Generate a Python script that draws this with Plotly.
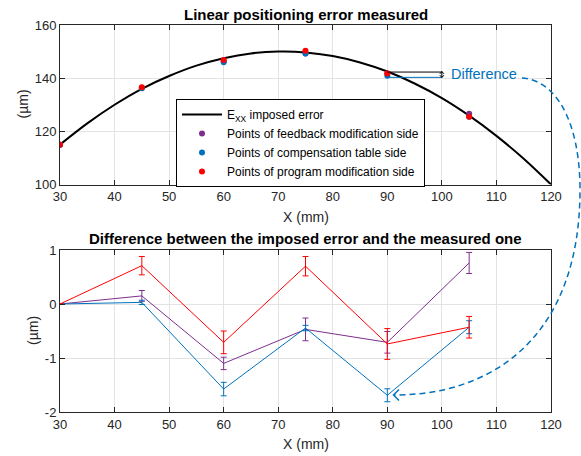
import plotly.graph_objects as go

# ---------------- data ----------------
curve_x = [30, 35, 40, 45, 50, 55, 60, 65, 70, 75, 80, 85, 90, 95, 100, 105, 110, 115, 120]
curve_y = [115.0, 123.0, 130.0, 136.0, 140.8, 144.7, 147.5, 149.3, 150.0, 149.7,
           148.3, 145.9, 142.5, 138.0, 132.5, 125.9, 118.3, 109.7, 100.0]

pts_x = [30, 45, 60, 75, 90, 105]
feedback_pts = [115.0, 136.4, 146.4, 149.3, 141.8, 126.6]
compensation_pts = [115.0, 136.2, 146.0, 149.3, 140.9, 125.5]
program_pts = [115.0, 136.6, 146.8, 150.3, 141.8, 125.5]

diff_x = [30, 45, 60, 75, 90, 105]
feedback_diff = [0, 0.15, -1.10, -0.47, -0.71, 0.76]
feedback_err = [0, 0.10, 0.115, 0.21, 0.20, 0.195]
compensation_diff = [0, 0.03, -1.575, -0.445, -1.69, -0.43]
compensation_err = [0, 0.04, 0.125, 0.05, 0.12, 0.12]
program_diff = [0, 0.71, -0.71, 0.70, -0.74, -0.43]
program_err = [0, 0.17, 0.21, 0.18, 0.285, 0.20]

x_ticks = [30, 40, 50, 60, 70, 80, 90, 100, 110, 120]
top_y_ticks = [100, 120, 140, 160]
bot_y_ticks = [-2, -1, 0, 1]
bot_y_ticktext = ["-2", "-1", "0", "1"]

PURPLE = "#7E2F8E"
BLUE = "#0072BD"
RED = "#FF0000"
FONT = "Liberation Sans, Arial, sans-serif"
AX = "#262626"

# ---------------- layout geometry ----------------
W, H = 581, 456
ML, MR, MT, MB = 60, 30, 25, 44
PW, PH = W - ML - MR, H - MT - MB


def px(x):
    return (x - ML) / PW


def py(y):
    return 1 - (y - MT) / PH


fig = go.Figure()

# top plot
fig.add_trace(go.Scatter(x=curve_x, y=curve_y, mode="lines", line=dict(color="black", width=2, shape="spline"),
                         name="E<sub>XX</sub> imposed error", xaxis="x", yaxis="y"))
fig.add_trace(go.Scatter(x=pts_x, y=feedback_pts, mode="markers", marker=dict(color=PURPLE, size=6),
                         name="Points of feedback modification side", xaxis="x", yaxis="y"))
fig.add_trace(go.Scatter(x=pts_x, y=compensation_pts, mode="markers", marker=dict(color=BLUE, size=6),
                         name="Points of compensation table side", xaxis="x", yaxis="y"))
fig.add_trace(go.Scatter(x=pts_x, y=program_pts, mode="markers", marker=dict(color=RED, size=6),
                         name="Points of program modification side", xaxis="x", yaxis="y"))

# bottom plot
for yv, ev, col in [(feedback_diff, feedback_err, PURPLE),
                    (compensation_diff, compensation_err, BLUE),
                    (program_diff, program_err, RED)]:
    fig.add_trace(go.Scatter(x=diff_x, y=yv, mode="lines", line=dict(color=col, width=1),
                             error_y=dict(type="data", array=ev, visible=True, color=col, thickness=1, width=3),
                             showlegend=False, xaxis="x2", yaxis="y2"))

axis_common = dict(showline=True, linecolor=AX, linewidth=1, mirror="ticks", ticks="inside", ticklen=5,
                   tickcolor=AX, showgrid=True, gridcolor="#e3e3e3", gridwidth=1, zeroline=False,
                   tickfont=dict(family=FONT, size=13, color=AX))

fig.update_layout(
    width=W, height=H, margin=dict(l=ML, r=MR, t=MT, b=MB),
    paper_bgcolor="white", plot_bgcolor="white",
    font=dict(family=FONT, color=AX),
    xaxis=dict(domain=[0, 1], range=[30, 120], tickvals=x_ticks, anchor="y", **axis_common),
    yaxis=dict(domain=[py(184.5), 1], range=[100, 160], tickvals=top_y_ticks, anchor="x", **axis_common),
    xaxis2=dict(domain=[0, 1], range=[30, 120], tickvals=x_ticks, anchor="y2", **axis_common),
    yaxis2=dict(domain=[0, py(250)], range=[-2, 1], tickvals=bot_y_ticks, ticktext=bot_y_ticktext,
                anchor="x2", **axis_common),
    legend=dict(x=px(176), y=py(99), xanchor="left", yanchor="top", bgcolor="white",
                bordercolor="black", borderwidth=1, font=dict(family=FONT, size=12, color="black"),
                tracegroupgap=0, itemwidth=40),
    showlegend=True,
)

ann = []
# titles
ann.append(dict(text="<b>Linear positioning error measured</b>", x=0.5, y=py(14), xref="paper", yref="paper",
                showarrow=False, font=dict(family=FONT, size=15, color="black"), xanchor="center", yanchor="middle"))
ann.append(dict(text="<b>Difference between the imposed error and the measured one</b>", x=0.5, y=py(239),
                xref="paper", yref="paper", showarrow=False, font=dict(family=FONT, size=15, color="black"),
                xanchor="center", yanchor="middle"))
# axis titles
for yy in (217, 444):
    ann.append(dict(text="X (mm)", x=0.5, y=py(yy), xref="paper", yref="paper", showarrow=False,
                    font=dict(family=FONT, size=14, color=AX), xanchor="center", yanchor="middle"))
ann.append(dict(text="(µm)", x=px(22), y=py(104.5), xref="paper", yref="paper", showarrow=False, textangle=-90,
                font=dict(family=FONT, size=14, color=AX), xanchor="center", yanchor="middle"))
ann.append(dict(text="(µm)", x=px(33), y=py(331), xref="paper", yref="paper", showarrow=False, textangle=-90,
                font=dict(family=FONT, size=14, color=AX), xanchor="center", yanchor="middle"))
# difference label
ann.append(dict(text="Difference", x=101.3, y=141.4, xref="x", yref="y", showarrow=False,
                font=dict(family=FONT, size=14.5, color=BLUE), xanchor="left", yanchor="middle"))
fig.update_layout(annotations=ann)

shapes = []
shapes.append(dict(type="line", x0=90, x1=100, y0=142.3, y1=142.3, xref="x", yref="y",
                   line=dict(color="black", width=1)))
shapes.append(dict(type="line", x0=90, x1=100, y0=140.3, y1=140.3, xref="x", yref="y",
                   line=dict(color=BLUE, width=1)))
# small double arrow between the two levels at x = 100
xa = ML + (100 - 30) / 90 * PW
dbl = (f"M {px(xa)},{py(71.5)} L {px(xa)},{py(77.5)} "
       f"M {px(xa - 2)},{py(73.8)} L {px(xa)},{py(71.5)} L {px(xa + 2)},{py(73.8)} "
       f"M {px(xa - 2)},{py(75.2)} L {px(xa)},{py(77.5)} L {px(xa + 2)},{py(75.2)}")
shapes.append(dict(type="path", path=dbl, xref="paper", yref="paper", line=dict(color="black", width=1)))
path = (f"M {px(522)},{py(78)} C {px(555)},{py(80)} {px(580)},{py(120)} {px(580)},{py(190)} "
        f"C {px(580)},{py(330)} {px(500)},{py(395)} {px(394)},{py(395)}")
shapes.append(dict(type="path", path=path, xref="paper", yref="paper",
                   line=dict(color=BLUE, width=1.5, dash="6px,4px")))
chev = f"M {px(399)},{py(389.5)} L {px(393.5)},{py(395)} L {px(399)},{py(400.5)}"
shapes.append(dict(type="path", path=chev, xref="paper", yref="paper", line=dict(color=BLUE, width=1.5)))
fig.update_layout(shapes=shapes)

fig.write_html("out.html")
